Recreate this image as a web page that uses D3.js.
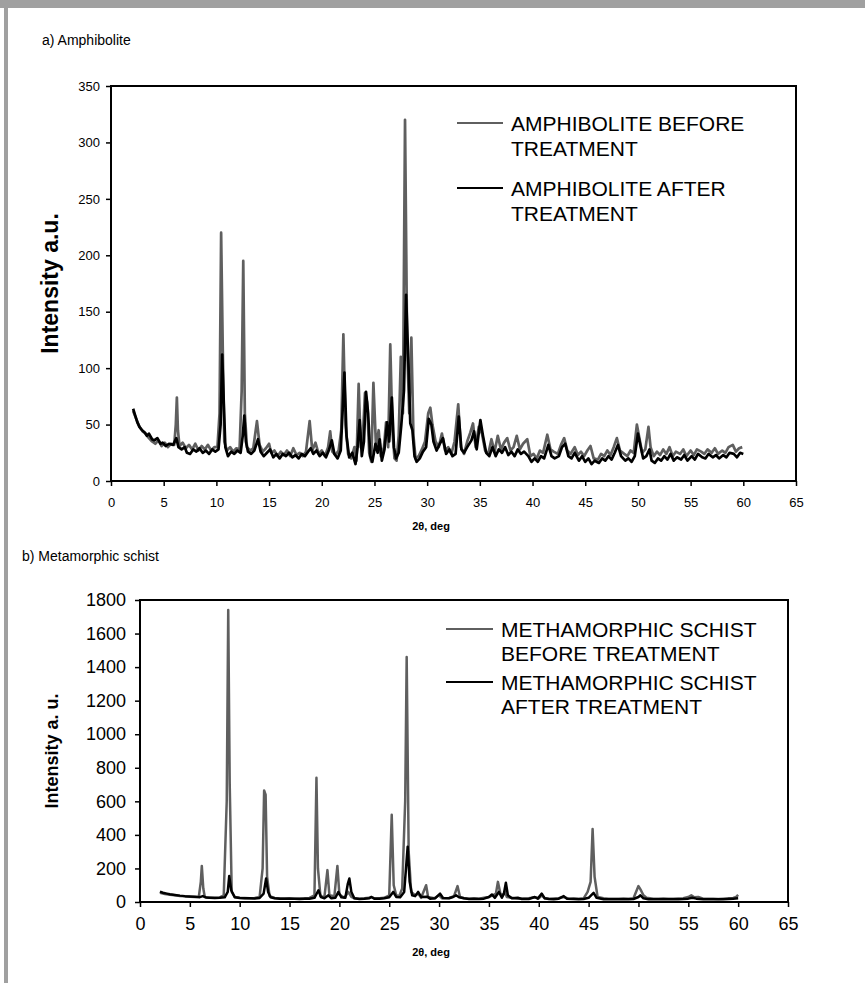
<!DOCTYPE html>
<html>
<head>
<meta charset="utf-8">
<script src="https://cdn.jsdelivr.net/npm/d3@7"></script>
<style>
body { margin: 0; background: #fff; }
svg { display: block; font-family: "Liberation Sans", Arial, sans-serif; }
.tick line { stroke: #000; stroke-width: 1.5px; }
.tick text { fill: #000; }
</style>
</head>
<body>
<svg id="chart" width="865" height="983"></svg>
<script>
// a) amphibolite, [2theta, intensity]
amphBefore = [[2.1,62],[2.4,55],[2.7,48],[3.0,44],[3.3,42],[3.6,38],[3.9,35],[4.2,33],[4.5,36],[4.8,31],[5.1,34],[5.4,30],[5.7,33],[6.0,32],[6.15,50],[6.25,74],[6.35,45],[6.5,31],[6.8,34],[7.1,29],[7.4,32],[7.7,28],[8.0,33],[8.3,27],[8.6,31],[8.9,28],[9.2,32],[9.5,27],[9.8,30],[10.1,30],[10.3,60],[10.45,220],[10.6,120],[10.75,35],[11.0,27],[11.3,30],[11.6,26],[11.9,29],[12.2,28],[12.4,80],[12.55,195],[12.7,60],[12.9,30],[13.2,27],[13.5,29],[13.85,53],[14.1,32],[14.4,26],[14.7,29],[15.0,33],[15.2,25],[15.5,27],[15.8,22],[16.1,26],[16.4,23],[16.7,27],[17.0,22],[17.3,29],[17.6,23],[17.9,25],[18.2,22],[18.5,26],[18.85,53],[19.1,27],[19.4,34],[19.7,24],[20.0,27],[20.3,22],[20.6,30],[20.8,44],[21.0,26],[21.3,23],[21.6,27],[21.85,45],[22.05,130],[22.25,50],[22.5,24],[22.8,20],[23.1,30],[23.3,18],[23.5,86],[23.7,30],[23.9,40],[24.1,78],[24.3,70],[24.5,25],[24.7,17],[24.9,87],[25.15,30],[25.4,45],[25.6,22],[25.9,30],[26.1,52],[26.3,30],[26.5,121],[26.7,45],[26.9,20],[27.1,18],[27.3,40],[27.5,110],[27.7,60],[27.9,320],[28.1,120],[28.3,60],[28.5,127],[28.7,40],[28.9,20],[29.2,22],[29.5,28],[29.8,35],[30.1,60],[30.3,65],[30.5,50],[30.8,35],[31.1,30],[31.4,42],[31.7,27],[32.0,30],[32.3,24],[32.6,35],[32.95,68],[33.2,30],[33.5,24],[33.8,35],[34.1,43],[34.35,51],[34.6,30],[34.9,48],[35.2,42],[35.5,27],[35.8,24],[36.1,37],[36.4,26],[36.7,40],[37.0,28],[37.3,34],[37.6,38],[37.9,27],[38.2,30],[38.5,40],[38.8,28],[39.1,33],[39.5,37],[39.8,22],[40.1,24],[40.4,20],[40.7,27],[41.0,25],[41.4,41],[41.7,28],[42.0,26],[42.4,24],[42.7,32],[43.0,38],[43.3,27],[43.6,24],[44.0,30],[44.3,23],[44.6,26],[44.9,22],[45.2,27],[45.5,31],[45.8,20],[46.2,19],[46.5,24],[46.8,22],[47.1,27],[47.4,23],[47.7,30],[48.0,38],[48.3,27],[48.7,24],[49.0,22],[49.3,27],[49.6,25],[49.9,50],[50.1,40],[50.4,25],[50.7,28],[51.0,48],[51.2,30],[51.5,22],[51.8,26],[52.1,23],[52.4,28],[52.7,24],[53.0,30],[53.3,22],[53.6,26],[54.0,24],[54.3,28],[54.6,22],[55.0,27],[55.3,23],[55.6,28],[56.0,26],[56.3,24],[56.6,28],[57.0,25],[57.3,29],[57.6,24],[58.0,27],[58.3,25],[58.6,30],[59.0,32],[59.3,26],[59.6,29],[59.9,30]]

amphAfter = [[2.1,64],[2.3,58],[2.5,52],[2.7,48],[2.95,45],[3.2,43],[3.4,40],[3.6,42],[3.9,37],[4.1,36],[4.4,38],[4.7,33],[4.9,34],[5.2,31],[5.5,33],[5.9,32],[6.2,38],[6.4,30],[6.7,28],[7.0,30],[7.2,25],[7.5,24],[7.8,28],[8.1,26],[8.4,29],[8.7,25],[9.0,27],[9.3,24],[9.6,28],[9.9,26],[10.2,28],[10.4,50],[10.55,112],[10.7,70],[10.85,30],[11.1,22],[11.4,26],[11.7,24],[12.0,27],[12.3,25],[12.5,40],[12.65,58],[12.8,35],[13.0,26],[13.3,24],[13.6,27],[13.95,37],[14.2,26],[14.5,22],[14.8,25],[15.1,28],[15.4,21],[15.7,24],[16.0,20],[16.3,24],[16.6,22],[16.9,25],[17.2,21],[17.5,23],[17.8,20],[18.1,24],[18.4,22],[18.7,26],[18.95,29],[19.2,24],[19.5,27],[19.8,22],[20.1,25],[20.4,21],[20.7,28],[20.95,36],[21.2,24],[21.5,20],[21.8,27],[22.15,96],[22.35,40],[22.6,21],[22.9,25],[23.2,15],[23.4,30],[23.6,54],[23.8,22],[24.0,35],[24.2,79],[24.4,60],[24.6,22],[24.8,17],[25.1,33],[25.3,25],[25.5,37],[25.7,18],[25.95,28],[26.2,52],[26.4,35],[26.65,74],[26.85,30],[27.05,20],[27.3,25],[27.55,50],[27.8,80],[28.0,165],[28.2,110],[28.4,51],[28.6,45],[28.8,22],[29.0,17],[29.3,20],[29.6,26],[29.9,30],[30.15,55],[30.4,50],[30.6,35],[30.9,27],[31.2,33],[31.5,38],[31.8,24],[32.1,28],[32.4,22],[32.7,24],[33.0,57],[33.25,28],[33.5,25],[33.8,30],[34.2,36],[34.45,44],[34.7,28],[35.05,54],[35.3,40],[35.6,25],[35.9,22],[36.2,30],[36.5,22],[36.8,28],[37.1,25],[37.4,30],[37.7,23],[38.0,26],[38.3,22],[38.6,28],[38.9,24],[39.2,26],[39.6,22],[39.9,17],[40.2,20],[40.5,17],[40.8,22],[41.1,20],[41.5,32],[41.8,22],[42.1,20],[42.5,22],[42.8,30],[43.1,33],[43.4,22],[43.7,20],[44.0,25],[44.4,18],[44.7,22],[45.0,17],[45.3,20],[45.6,15],[45.9,18],[46.3,16],[46.6,20],[46.9,18],[47.2,22],[47.5,19],[47.8,25],[48.1,32],[48.4,22],[48.8,18],[49.1,20],[49.4,17],[49.7,22],[50.0,42],[50.2,33],[50.5,20],[50.8,22],[51.1,28],[51.3,18],[51.6,16],[51.9,20],[52.2,18],[52.5,22],[52.8,19],[53.1,24],[53.4,18],[53.7,21],[54.1,19],[54.4,23],[54.7,18],[55.1,22],[55.4,19],[55.7,24],[56.1,21],[56.4,20],[56.7,24],[57.1,21],[57.4,23],[57.7,20],[58.1,23],[58.4,21],[58.7,25],[59.1,24],[59.4,21],[59.7,25],[60.0,24]]

// b) metamorphic schist
schistBefore = [[2.0,55],[2.5,48],[3.0,43],[3.5,40],[4.0,36],[4.5,34],[5.0,31],[5.5,30],[5.9,32],[6.1,120],[6.2,215],[6.35,80],[6.5,30],[7.0,26],[7.5,25],[8.0,27],[8.4,40],[8.7,600],[8.85,1740],[9.0,700],[9.2,60],[9.5,30],[10.0,25],[10.5,24],[11.0,23],[11.5,24],[12.0,30],[12.3,200],[12.45,665],[12.6,640],[12.75,150],[13.0,35],[13.5,24],[14.0,22],[14.5,21],[15.0,22],[15.5,20],[16.0,21],[16.5,22],[17.0,24],[17.5,40],[17.7,740],[17.85,200],[18.1,35],[18.5,30],[18.8,190],[19.0,40],[19.5,35],[19.8,215],[20.0,45],[20.5,25],[20.9,60],[21.2,30],[21.5,22],[22.0,20],[22.5,22],[23.0,25],[23.2,30],[23.5,22],[24.0,23],[24.5,25],[25.0,40],[25.25,520],[25.45,100],[25.7,40],[26.0,35],[26.3,80],[26.6,600],[26.75,1460],[26.95,300],[27.2,60],[27.6,40],[27.9,50],[28.2,25],[28.7,100],[28.9,30],[29.5,22],[30.0,40],[30.3,22],[31.0,24],[31.5,35],[31.85,95],[32.1,30],[32.5,22],[33.0,20],[33.5,21],[34.0,20],[34.5,25],[35.0,30],[35.4,40],[35.7,50],[35.9,120],[36.15,50],[36.4,40],[36.6,60],[36.8,30],[37.5,22],[38.0,20],[38.5,21],[39.0,22],[39.6,28],[40.0,22],[40.3,40],[40.6,22],[41.0,20],[41.5,21],[42.0,22],[42.5,30],[43.0,20],[43.5,21],[44.0,20],[44.5,22],[44.9,60],[45.2,120],[45.4,435],[45.6,150],[45.9,30],[46.5,22],[47.0,20],[47.5,19],[48.0,20],[48.5,21],[49.0,20],[49.5,22],[50.0,95],[50.2,75],[50.5,40],[50.8,25],[51.5,20],[52.0,19],[52.5,21],[53.0,20],[53.5,19],[54.0,21],[54.5,22],[55.0,30],[55.3,40],[55.6,28],[56.0,30],[56.5,20],[57.0,19],[57.5,20],[58.0,18],[58.5,20],[59.0,22],[59.5,24],[59.8,30],[60.0,42]]

schistAfter = [[2.0,62],[2.3,55],[2.7,50],[3.0,46],[3.5,42],[4.0,38],[4.5,35],[5.0,33],[5.5,31],[6.0,29],[6.3,35],[6.6,27],[7.0,26],[7.5,24],[8.0,25],[8.5,28],[8.8,60],[8.95,155],[9.15,70],[9.5,28],[10.0,24],[10.5,22],[11.0,22],[11.5,21],[12.0,24],[12.4,50],[12.65,140],[12.85,60],[13.1,28],[13.5,22],[14.0,20],[14.5,19],[15.0,20],[15.5,19],[16.0,18],[16.5,19],[17.0,20],[17.5,25],[17.9,70],[18.15,30],[18.5,22],[18.9,40],[19.2,22],[19.6,25],[19.9,60],[20.2,28],[20.6,25],[20.85,110],[21.0,140],[21.2,60],[21.5,22],[22.0,18],[22.5,19],[23.0,22],[23.2,30],[23.5,20],[24.0,19],[24.5,22],[25.0,28],[25.4,60],[25.7,30],[26.1,28],[26.5,60],[26.85,330],[27.05,120],[27.3,40],[27.6,35],[27.9,60],[28.2,30],[28.8,32],[29.1,20],[29.6,22],[30.1,50],[30.4,24],[31.0,22],[31.4,30],[31.7,40],[32.0,28],[32.5,22],[33.0,18],[33.5,19],[34.0,18],[34.5,20],[35.0,30],[35.3,45],[35.6,25],[36.0,60],[36.3,25],[36.5,50],[36.7,115],[36.9,40],[37.3,22],[37.9,25],[38.3,18],[39.0,18],[39.6,30],[39.9,20],[40.3,50],[40.6,22],[41.0,18],[41.5,17],[42.0,20],[42.5,35],[42.8,20],[43.5,18],[44.0,17],[44.5,18],[45.0,25],[45.5,55],[45.8,25],[46.5,17],[47.0,16],[47.5,17],[48.0,16],[48.5,17],[49.0,16],[49.5,18],[50.0,30],[50.2,40],[50.5,22],[51.0,17],[51.5,16],[52.0,17],[52.5,16],[53.0,17],[53.5,16],[54.0,17],[54.5,18],[55.0,20],[55.4,25],[55.8,20],[56.5,17],[57.0,16],[57.5,17],[58.0,16],[58.5,17],[59.0,18],[59.5,20],[60.0,22]]

xTicks = [0, 5, 10, 15, 20, 25, 30, 35, 40, 45, 50, 55, 60, 65]
amphYTicks = [0, 50, 100, 150, 200, 250, 300, 350]
schistYTicks = [0, 200, 400, 600, 800, 1000, 1200, 1400, 1600, 1800]
amphLegend = [["AMPHIBOLITE BEFORE", "TREATMENT"], ["AMPHIBOLITE AFTER", "TREATMENT"]]
schistLegend = [["METHAMORPHIC SCHIST", "BEFORE TREATMENT"], ["METHAMORPHIC SCHIST", "AFTER TREATMENT"]]

var grey = "#5f5f5f";
var svg = d3.select("#chart");

// page frame
svg.append("rect").attr("x", 0).attr("y", 0).attr("width", 865).attr("height", 8).attr("fill", "#a0a0a0");
svg.append("rect").attr("x", 4).attr("y", 0).attr("width", 4).attr("height", 983).attr("fill", "#a0a0a0");

function drawPanel(p) {
    var xScale = d3.scaleLinear().domain([0, 65]).range([p.left, p.right]);
    var yScale = d3.scaleLinear().domain([0, p.yMax]).range([p.bottom, p.top]);

    svg.append("text")
        .attr("x", p.labelX).attr("y", p.labelY)
        .style("font-size", "14px")
        .text(p.label);

    svg.append("g")
        .attr("transform", "translate(0," + p.bottom + ")")
        .call(d3.axisBottom(xScale).tickValues(xTicks).tickSize(5).tickPadding(p.xPad))
        .call(function (g) { g.select(".domain").remove(); })
        .selectAll("text").style("font-size", p.tickFont + "px");

    svg.append("g")
        .attr("transform", "translate(" + p.left + ",0)")
        .call(d3.axisLeft(yScale).tickValues(p.yTicks).tickFormat(d3.format("d")).tickSize(5).tickPadding(p.yPad))
        .call(function (g) { g.select(".domain").remove(); })
        .selectAll("text").style("font-size", p.tickFont + "px");

    var line = d3.line()
        .x(function (d) { return xScale(d[0]); })
        .y(function (d) { return yScale(d[1]); });

    svg.append("path").datum(p.before)
        .attr("fill", "none").attr("stroke", grey).attr("stroke-width", p.lineW)
        .attr("stroke-linejoin", "round").attr("d", line);
    svg.append("path").datum(p.after)
        .attr("fill", "none").attr("stroke", "#000").attr("stroke-width", p.lineW)
        .attr("stroke-linejoin", "round").attr("d", line);

    // plot box
    svg.append("rect")
        .attr("x", p.left).attr("y", p.top)
        .attr("width", p.right - p.left).attr("height", p.bottom - p.top)
        .attr("fill", "none").attr("stroke", "#000").attr("stroke-width", 2);

    svg.append("text")
        .attr("transform", "translate(" + p.yTitleX + "," + ((p.top + p.bottom) / 2) + ") rotate(-90)")
        .attr("text-anchor", "middle")
        .style("font-size", p.yTitleFont + "px").style("font-weight", "bold")
        .text(p.yTitle);

    svg.append("text")
        .attr("x", 431).attr("y", p.xTitleY)
        .attr("text-anchor", "middle")
        .style("font-size", "11px").style("font-weight", "bold")
        .text("2\u03b8, deg");

    // legend
    p.legend.forEach(function (rows, i) {
        var y0 = p.legY + i * p.legGap;
        svg.append("line")
            .attr("x1", p.legX).attr("x2", p.legX + p.legLen)
            .attr("y1", y0).attr("y2", y0)
            .attr("stroke", i == 0 ? grey : "#000").attr("stroke-width", 2);
        rows.forEach(function (t, j) {
            svg.append("text")
                .attr("x", p.legX + p.legLen + 8).attr("y", y0 + j * p.legLine)
                .attr("dy", "0.36em")
                .style("font-size", p.legFont + "px")
                .text(t);
        });
    });
}

drawPanel({
    label: "a) Amphibolite", labelX: 42, labelY: 45,
    left: 111, right: 796, top: 86, bottom: 481, yMax: 350,
    yTicks: amphYTicks, tickFont: 13, xPad: 12, yPad: 6,
    before: amphBefore, after: amphAfter, lineW: 2.7,
    yTitle: "Intensity a.u.", yTitleX: 58, yTitleFont: 23,
    xTitleY: 530,
    legend: amphLegend, legX: 457, legLen: 46, legY: 123, legGap: 65, legLine: 25, legFont: 21
});

drawPanel({
    label: "b) Metamorphic schist", labelX: 22, labelY: 561,
    left: 140, right: 788, top: 600, bottom: 902, yMax: 1800,
    yTicks: schistYTicks, tickFont: 18, xPad: 10, yPad: 9,
    before: schistBefore, after: schistAfter, lineW: 2.5,
    yTitle: "Intensity a. u.", yTitleX: 58, yTitleFont: 18,
    xTitleY: 956,
    legend: schistLegend, legX: 446, legLen: 47, legY: 629, legGap: 53, legLine: 24, legFont: 21
});
</script>
</body>
</html>
